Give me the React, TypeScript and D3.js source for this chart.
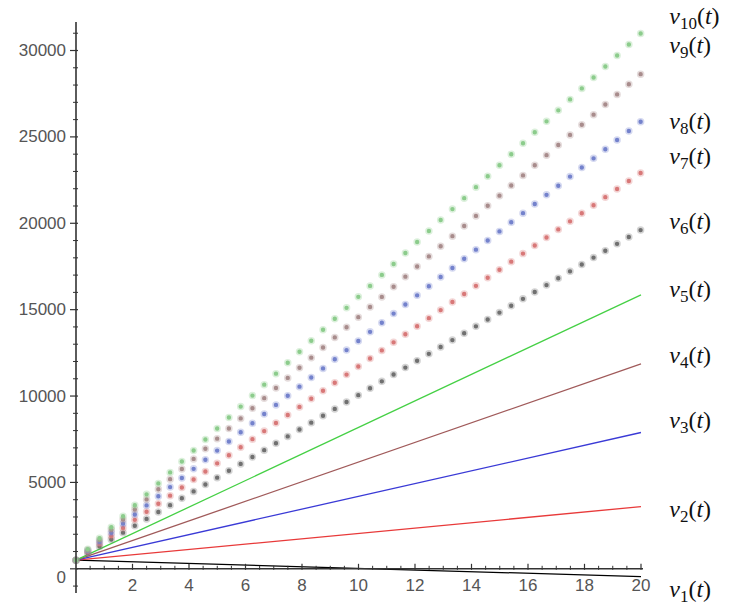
import React from "react";
import * as d3 from "d3";

const W = 731;
const H = 608;

// series: linear solutions v_i(t), sampled at t = 0 and t = 20
const seriesNames = ["1", "2", "3", "4", "5", "6", "7", "8", "9", "10"];
const tSamples = [0, 20];
const startValues = [500, 500, 500, 500, 500, 500, 500, 500, 500, 500];
const endValues = [-450, 3600, 7890, 11860, 15860, 19620, 22930, 25890, 28650, 31000];
const seriesColors = [
  "#000000", "#e83a3a", "#3a3ad6", "#a05a5a", "#45d045",
  "#707070", "#d87878", "#7482cc", "#a88c8c", "#8ccc8c",
];
const dottedStyle = [false, false, false, false, false, true, true, true, true, true];
// label anchor values (textplot at t = 21)
const labelValues = [-1215, 3410, 8560, 12330, 16150, 20080, 23840, 25870, 30270, 31940];
const labelT = 21;

const yMajorTicks = [0, 5000, 10000, 15000, 20000, 25000, 30000];
const xMajorTicks = [2, 4, 6, 8, 10, 12, 14, 16, 18, 20];

export default function App() {
  const x = d3.scaleLinear().domain([0, 20]).range([76, 641]);
  const y = d3.scaleLinear().domain([-1400, 31650]).range([593, 22]);

  const yMinor = d3.range(-1000, 31650, 1000).filter((v) => v % 5000 !== 0);
  const xMinor = d3.range(0.5, 20.01, 0.5).filter((v) => v % 2 !== 0);

  const line = d3
    .line<[number, number]>()
    .x((d) => x(d[0]))
    .y((d) => y(d[1]));

  const nDots = 48;

  return (
    <svg width={W} height={H} style={{ position: "absolute", left: 0, top: 0, background: "#fff" }}>
      <rect x={0} y={0} width={W} height={H} fill="#fff" />
      {/* series */}
      {seriesNames.map((name, i) => {
        const pts: [number, number][] = [
          [tSamples[0], startValues[i]],
          [tSamples[1], endValues[i]],
        ];
        const dx = x(tSamples[1]) - x(tSamples[0]);
        const dy = y(endValues[i]) - y(startValues[i]);
        const len = Math.sqrt(dx * dx + dy * dy);
        const gap = len / nDots - 0.01;
        if (dottedStyle[i]) {
          return (
            <g key={name}>
              <path
                d={line(pts) || ""}
                fill="none"
                stroke={seriesColors[i]}
                strokeOpacity={0.3}
                strokeWidth={7.5}
                strokeLinecap="round"
                strokeDasharray={`0 ${gap}`}
              />
              <path
                d={line(pts) || ""}
                fill="none"
                stroke={seriesColors[i]}
                strokeWidth={4.4}
                strokeLinecap="round"
                strokeDasharray={`0 ${gap}`}
              />
            </g>
          );
        }
        return (
          <path
            key={name}
            d={line(pts) || ""}
            fill="none"
            stroke={seriesColors[i]}
            strokeWidth={1.3}
          />
        );
      })}

      {/* axes */}
      <g stroke="#333" fill="none">
        <line x1={x(0)} x2={x(0)} y1={y(31650)} y2={y(-1400)} strokeWidth={1.6} />
        <line x1={x(0)} x2={x(20) + 2} y1={y(0)} y2={y(0)} strokeWidth={1.6} />
        {yMajorTicks.map((v) => (
          <line key={"ym" + v} x1={x(0) - 6} x2={x(0) + 2} y1={y(v)} y2={y(v)} strokeWidth={1.2} />
        ))}
        {yMinor.map((v) => (
          <line key={"yn" + v} x1={x(0) - 3} x2={x(0) + 2} y1={y(v)} y2={y(v)} strokeWidth={1} />
        ))}
        {xMajorTicks.map((v) => (
          <line key={"xm" + v} x1={x(v)} x2={x(v)} y1={y(0) - 5} y2={y(0) + 1} strokeWidth={1.2} />
        ))}
        {xMinor.map((v) => (
          <line key={"xn" + v} x1={x(v)} x2={x(v)} y1={y(0) - 3} y2={y(0) + 1} strokeWidth={1} />
        ))}
      </g>

      {/* tick labels */}
      <g fontFamily="'Liberation Sans', Arial, sans-serif" fontSize={17} fill="#555">
        {yMajorTicks.map((v) => (
          <text
            key={"yl" + v}
            x={x(0) - 10}
            y={y(v) + (v === 0 ? 9 : 0)}
            textAnchor="end"
            dominantBaseline="central"
          >
            {v}
          </text>
        ))}
        {xMajorTicks.map((v) => (
          <text key={"xl" + v} x={x(v)} y={y(0) + 17} textAnchor="middle" dominantBaseline="central">
            {v}
          </text>
        ))}
      </g>

      {/* series labels */}
      <g fontFamily="'Liberation Serif', 'Times New Roman', serif" fontSize={24} fill="#111">
        {seriesNames.map((name, i) => (
          <text key={"lab" + name} x={x(labelT)} y={y(labelValues[i]) + 7}>
            <tspan fontStyle="italic">v</tspan>
            <tspan fontSize={17} dy={5}>{name}</tspan>
            <tspan dy={-5}>(</tspan>
            <tspan fontStyle="italic">t</tspan>
            <tspan>)</tspan>
          </text>
        ))}
      </g>
    </svg>
  );
}
